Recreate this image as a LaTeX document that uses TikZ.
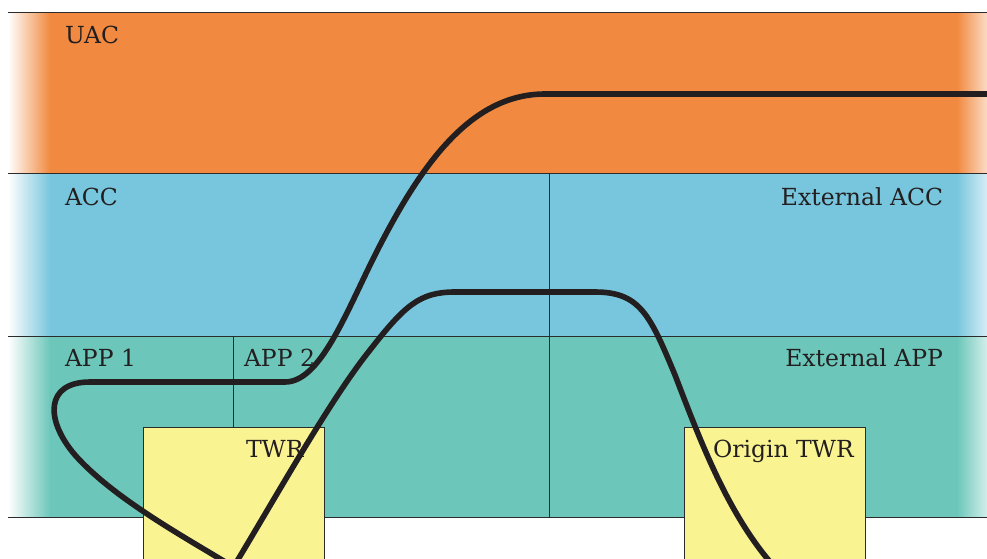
\documentclass[tikz,border=0pt]{standalone}
\usepackage{fontspec}
\setmainfont{DejaVu Serif}
\usetikzlibrary{positioning}
\definecolor{uaccol}{HTML}{F18A40}
\definecolor{acccol}{HTML}{78C6DD}
\definecolor{appcol}{HTML}{6CC7BA}
\definecolor{twrcol}{HTML}{F9F391}
\definecolor{linecol}{HTML}{2B2B2B}
\definecolor{routecol}{HTML}{231F20}
\tikzstyle{border}=[draw=linecol, line width=0.9pt]
\tikzstyle{sector}=[inner sep=0, outer sep=0, text=routecol, font=\fontsize{23.5}{28}\selectfont]
\tikzstyle{tower}=[border, fill=twrcol, inner sep=0, outer sep=0, minimum width=181pt, minimum height=140pt]
\tikzstyle{route}=[draw=routecol, line width=5.6pt, line join=round]
% fade the bands out at both ends
\tikzstyle{fadeleft}=[left color=white, right color=#1]
\tikzstyle{faderight}=[left color=#1, right color=white]
\tikzstyle{airspace}=[x=1pt, y=-1pt]

\begin{document}
\begin{tikzpicture}[airspace]
    \useasboundingbox (0, 0) rectangle (987, 558);
    \clip (0, 0) rectangle (987, 558);
    % bands
    \fill[uaccol] (50, 12) rectangle (957, 173);
    \fill[acccol] (50, 173) rectangle (957, 336);
    \fill[appcol] (50, 336) rectangle (957, 517);
    \shade[fadeleft=uaccol] (8, 12) rectangle (50, 173);
    \shade[fadeleft=acccol] (8, 173) rectangle (50, 336);
    \shade[fadeleft=appcol] (8, 336) rectangle (50, 517);
    \shade[faderight=uaccol] (957, 12) rectangle (1000, 173);
    \shade[faderight=acccol] (957, 173) rectangle (1000, 336);
    \shade[faderight=appcol] (957, 336) rectangle (1000, 517);
    \foreach \y in {12, 173, 336, 517}
        \draw[border] (8, \y) -- (987, \y);
    \draw[border] (549, 173) -- (549, 517);
    \draw[border] (233, 336) -- (233, 427);

    % towers run on past the lower edge
    \node[tower] (twr) at (233.5, 497) {};
    \node[tower] (origintwr) at (774.5, 497) {};

    \node[sector, anchor=base west] (uac) at (65, 43) {UAC};
    \node[sector, anchor=base west] (acc) at (65, 205) {ACC};
    \node[sector, anchor=base west] (app1) at (65, 366) {APP 1};
    \node[sector, anchor=base west] (app2) at (244, 366) {APP 2};
    \node[sector, anchor=base east] (extacc) at (943, 205) {External ACC};
    \node[sector, anchor=base east] (extapp) at (943, 366) {External APP};
    \node[sector, anchor=base west] (twrlabel) at (246, 457) {TWR};
    \node[sector, anchor=base west] (originlabel) at (713, 457) {Origin TWR};

    \coordinate (exit) at (987, 94);
    % departures climbing out through UAC
    \draw[route] (exit) -- (545, 94)
        .. controls (470, 94) and (420, 166) .. (375, 255)
        .. controls (345, 315) and (320, 382) .. (285, 382)
        -- (90, 382)
        .. controls (45, 382) and (45, 420) .. (75, 455)
        .. controls (115, 500) and (190, 540) .. (twr.south);
    % route between the two towers
    \draw[route] (twr.south)
        .. controls (280, 490) and (330, 400) .. (370, 350)
        .. controls (405, 305) and (420, 292) .. (455, 292)
        -- (595, 292)
        .. controls (640, 292) and (650, 315) .. (675, 375)
        .. controls (700, 440) and (728, 515) .. (origintwr.south);
\end{tikzpicture}
\end{document}
